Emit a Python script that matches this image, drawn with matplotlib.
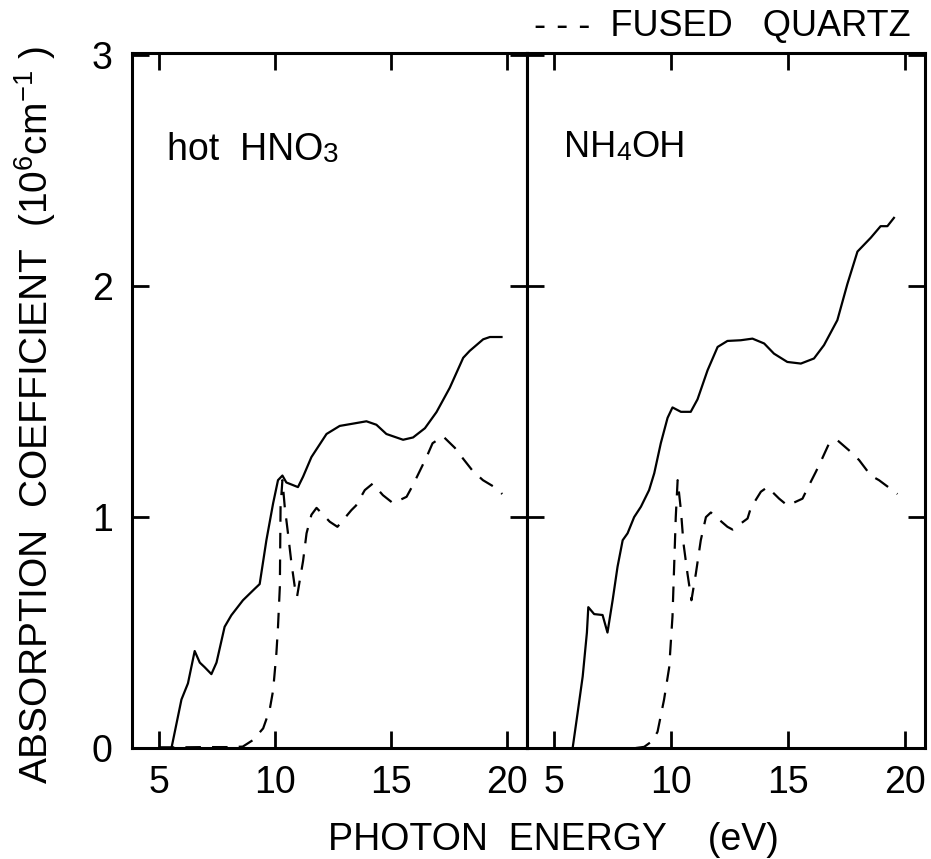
import matplotlib
matplotlib.use('Agg')
import matplotlib.pyplot as plt

plt.rcParams['font.family'] = ['Liberation Sans Narrow', 'Liberation Sans', 'DejaVu Sans']
plt.rcParams['mathtext.default'] = 'regular'

# curvas (eV, 10^6 cm^-1)
hno3_x = [5.55, 5.98, 6.26, 6.55, 6.77, 6.98, 7.27, 7.49, 7.84, 8.13, 8.63, 9.14, 9.35, 9.64,
          9.93, 10.14, 10.33, 10.50, 11.0, 11.22, 11.58, 12.23, 12.8, 13.38, 13.95, 14.38,
          14.81, 15.53, 15.96, 16.47, 16.97, 17.54, 18.12, 18.4, 18.98, 19.27, 19.77]
hno3_y = [0.0, 0.21, 0.28, 0.42, 0.37, 0.35, 0.32, 0.37, 0.525, 0.575, 0.64, 0.69, 0.71, 0.90,
          1.06, 1.16, 1.18, 1.15, 1.13, 1.175, 1.26, 1.36, 1.395, 1.405, 1.415, 1.40,
          1.36, 1.335, 1.345, 1.385, 1.455, 1.56, 1.69, 1.72, 1.77, 1.78, 1.78]

nh4oh_x = [5.80, 6.01, 6.23, 6.41, 6.47, 6.72, 7.08, 7.29, 7.51, 7.72, 7.94, 8.15, 8.43, 8.72,
           9.07, 9.29, 9.57, 9.86, 10.07, 10.43, 10.85, 11.14, 11.57, 12.0, 12.42, 12.99,
           13.49, 13.99, 14.41, 14.98, 15.56, 16.12, 16.55, 17.12, 17.55, 17.98, 18.55,
           18.97, 19.26, 19.54]
nh4oh_y = [0.0, 0.15, 0.31, 0.50, 0.61, 0.58, 0.576, 0.50, 0.64, 0.785, 0.90, 0.93, 1.0, 1.045,
           1.117, 1.19, 1.32, 1.43, 1.475, 1.456, 1.456, 1.51, 1.636, 1.737, 1.763, 1.766,
           1.773, 1.752, 1.708, 1.672, 1.665, 1.687, 1.745, 1.853, 2.01, 2.15, 2.21,
           2.26, 2.26, 2.296]

# cuarzo fundido (panel izquierdo)
cuarzo1_x = [5.0, 6.0, 7.0, 8.0, 8.62, 9.07, 9.5, 9.78, 9.93, 10.07, 10.14, 10.22, 10.25, 10.33,
             10.43, 10.57, 10.72, 10.86, 10.96, 11.08, 11.22, 11.37, 11.58, 11.8, 12.37, 12.7,
             13.3, 13.5, 13.88, 14.22, 14.66, 15.1, 15.68, 15.96, 16.25, 16.54, 16.8, 17.25,
             17.76, 18.1, 18.53, 18.97, 19.55, 19.8]
cuarzo1_y = [0.003, 0.003, 0.004, 0.004, 0.006, 0.035, 0.085, 0.165, 0.25, 0.41, 0.525, 0.70,
             1.045, 1.16, 1.045, 0.93, 0.80, 0.70, 0.655, 0.727, 0.81, 0.93, 1.01, 1.04, 0.98,
             0.958, 1.03, 1.05, 1.117, 1.145, 1.095, 1.06, 1.088, 1.14, 1.2, 1.26, 1.32, 1.35,
             1.30, 1.255, 1.2, 1.16, 1.125, 1.10]

# cuarzo fundido (panel derecho)
cuarzo2_x = [8.5, 8.86, 9.2, 9.43, 9.71, 9.93, 10.07, 10.14, 10.21, 10.29, 10.43, 10.54, 10.71,
             10.88, 11.07, 11.28, 11.5, 11.71, 12.42, 12.64, 13.28, 13.42, 13.85, 14.13, 14.63,
             14.99, 15.63, 15.84, 16.2, 16.41, 16.77, 17.12, 17.69, 18.05, 18.55, 18.9,
             19.47, 19.69]
cuarzo2_y = [0.0, 0.005, 0.03, 0.07, 0.21, 0.35, 0.57, 0.785, 1.0, 1.16, 1.03, 0.886, 0.756,
             0.64, 0.756, 0.90, 1.0, 1.02, 0.958, 0.946, 0.994, 1.04, 1.11, 1.13, 1.08,
             1.05, 1.08, 1.124, 1.196, 1.24, 1.32, 1.333, 1.283, 1.247, 1.18, 1.16,
             1.117, 1.10]

xticks = [5, 10, 15, 20]
yticks = [0, 1, 2, 3]

fig = plt.figure(figsize=(9.31, 8.59), dpi=100)
ax1 = fig.add_axes([0.1418, 0.1292, 0.4243, 0.8091])
ax2 = fig.add_axes([0.5661, 0.1292, 0.4275, 0.8091])

for ax in (ax1, ax2):
    ax.set_xlim(3.85, 20.87)
    ax.set_ylim(0, 3.01)
    ax.set_xticks(xticks)
    ax.set_yticks(yticks)
    for s in ax.spines.values():
        s.set_linewidth(2.2)
    ax.tick_params(direction='in', length=12, width=2.0, top=True, right=True,
                   labelsize=27)
    ax.tick_params(axis='x', pad=12)
    ax.tick_params(axis='y', pad=14)

ax2.tick_params(labelleft=False)

ax1.plot(hno3_x, hno3_y, color='black', lw=1.6)
ax1.plot(cuarzo1_x, cuarzo1_y, color='black', lw=1.6, ls=(0, (7, 5)))
ax2.plot(nh4oh_x, nh4oh_y, color='black', lw=1.6)
ax2.plot(cuarzo2_x, cuarzo2_y, color='black', lw=1.6, ls=(0, (7, 5)))

# etiquetas con subindice al mismo nivel de la linea base
t = ax1.text(5.34, 2.51, 'hot  HNO', fontsize=27, va='bottom', family='Liberation Sans')
ax1.annotate('3', xy=(1, 0), xycoords=t, fontsize=20, va='bottom', family='Liberation Sans')

t = ax2.text(5.43, 2.526, 'NH', fontsize=26, va='bottom', family='Liberation Sans')
a = ax2.annotate('4', xy=(1, 0), xycoords=t, fontsize=19, va='bottom', family='Liberation Sans')
ax2.annotate('OH', xy=(1, 0), xycoords=a, fontsize=26, va='bottom', family='Liberation Sans')

fig.text(0.978, 0.958, '- - -  FUSED   QUARTZ', fontsize=26, ha='right', va='baseline',
         family='Liberation Sans')
fig.text(0.352, 0.0105, 'PHOTON  ENERGY    (eV)', fontsize=27, ha='left', va='baseline')
fig.text(0.038, 0.517, r'ABSORPTION  COEFFICIENT  (10$^{6}$cm$^{-1}$ )', fontsize=28,
         rotation=90, ha='center', va='center')

plt.savefig('out.png', dpi=100)
